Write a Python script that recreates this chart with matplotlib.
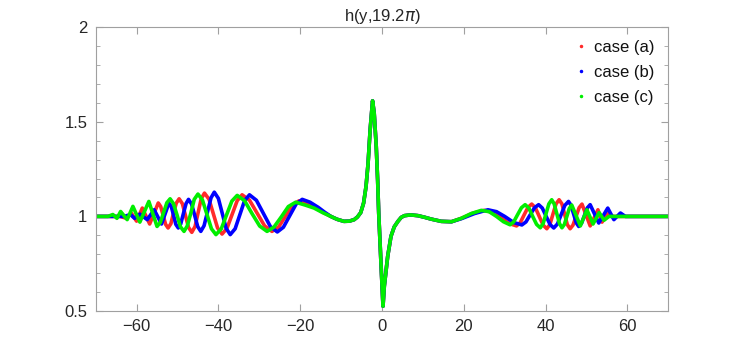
import numpy as np
import matplotlib
matplotlib.use("Agg")
from matplotlib import pyplot as plt
from matplotlib.lines import Line2D
from matplotlib.ticker import MultipleLocator

plt.rcParams['font.family'] = ['Liberation Sans', 'DejaVu Sans']

# shared part around the soliton (all three cases overlap here)
core_x = [-12.5, -11.0, -9.3, -8.0, -6.8, -6.0, -5.2, -4.5, -3.9, -3.4, -2.9, -2.3, -1.9,
          -1.4, -1.06, -0.8, -0.25, 0.25, 0.57, 1.4, 2.2, 3.0, 3.9, 4.7, 5.5, 7.0, 8.8,
          10.5, 12.0, 14.5]
core_y = [1.0, 0.985, 0.974, 0.975, 0.983, 0.997, 1.02, 1.07, 1.158, 1.28, 1.456, 1.61, 1.544,
          1.368, 1.19, 1.018, 0.755, 0.526, 0.632, 0.79, 0.895, 0.945, 0.974, 0.995, 1.004, 1.008, 1.004,
          0.995, 0.986, 0.974]

# case (a)
a_left_x = [-70, -64, -62.5, -61.3, -60.0, -58.6, -56.8, -54.7, -54.1, -53.5, -52.9, -52.3,
            -51.6, -51.0, -50.3, -49.6, -48.8, -48.05, -47.3, -46.5, -45.7, -44.95, -44.2, -43.4,
            -42.3, -41.25, -40.2, -39.1, -37.9, -36.65, -35.4, -34.2, -32.4, -30.55, -28.7, -26.9,
            -25.25, -23.6, -21.95, -20.3, -18.2, -16.2, -14.3]
a_left_y = [1.0, 1.0, 0.99, 1.018, 0.975, 1.044, 0.96, 1.071, 1.052, 1.005, 0.958, 0.939,
            0.962, 1.016, 1.07, 1.093, 1.067, 1.005, 0.942, 0.916, 0.947, 1.02, 1.093, 1.123,
            1.091, 1.015, 0.939, 0.907, 0.937, 1.01, 1.083, 1.114, 1.086, 1.018, 0.95, 0.921,
            0.945, 1.0, 1.058, 1.082, 1.065, 1.045, 1.02]
a_right_x = [17.0, 19.4, 22.2, 25.0, 27.0, 29.0, 31.0, 32.9, 33.8, 34.75, 35.7, 36.6, 37.5,
             38.45, 39.4, 40.3, 41.05, 41.8, 42.55, 43.3, 44.0, 44.65, 45.3, 46.0, 46.7, 47.45,
             48.2, 48.9, 50.9, 52.8, 53.8, 55.3, 56.5, 70]
a_right_y = [0.972, 0.99, 1.017, 1.032, 1.022, 0.995, 0.963, 0.95, 0.967, 1.008, 1.048, 1.065, 1.046,
             1.0, 0.954, 0.935, 0.957, 1.012, 1.066, 1.088, 1.066, 1.012, 0.957, 0.935, 0.954, 1.0,
             1.046, 1.065, 0.95, 1.035, 0.97, 1.015, 1.0, 1.0]

# case (b)
b_left_x = [-70, -63, -61.5, -60.5, -59.2, -57.4, -55.7, -53.9, -52.1, -51.5, -50.95, -50.4,
            -49.8, -49.2, -48.55, -47.9, -47.3, -46.55, -45.8, -45.05, -44.3, -43.5, -42.65, -41.8,
            -41.0, -40.0, -39.05, -38.1, -37.1, -35.9, -34.75, -33.6, -32.4, -30.7, -29.0, -27.3,
            -25.6, -24.1, -22.55, -21.0, -19.5, -17.6, -15.6, -14.0]
b_left_y = [1.0, 1.0, 1.01, 0.99, 1.012, 0.983, 1.035, 0.96, 1.07, 1.051, 1.005, 0.958,
            0.939, 0.961, 1.015, 1.068, 1.09, 1.065, 1.006, 0.946, 0.921, 0.951, 1.025, 1.098,
            1.128, 1.095, 1.016, 0.937, 0.904, 0.935, 1.009, 1.083, 1.114, 1.085, 1.016, 0.947,
            0.918, 0.943, 1.004, 1.065, 1.09, 1.075, 1.048, 1.022]
b_right_x = [17.0, 19.4, 22.6, 25.9, 28.0, 30.0, 32.2, 34.2, 35.2, 36.25, 37.3, 38.3, 39.2,
             40.15, 41.1, 42.0, 42.9, 43.8, 44.7, 45.6, 46.2, 46.85, 47.5, 48.1, 48.8, 49.5,
             50.2, 50.9, 53.0, 55.2, 56.7, 58.3, 59.5, 70]
b_right_y = [0.972, 0.988, 1.015, 1.035, 1.025, 1.0, 0.968, 0.955, 0.971, 1.009, 1.046, 1.062, 1.044,
             1.0, 0.957, 0.939, 0.96, 1.009, 1.058, 1.079, 1.06, 1.013, 0.966, 0.947, 0.964, 1.005,
             1.045, 1.062, 0.965, 1.044, 0.983, 1.018, 1.0, 1.0]

# case (c)
c_left_x = [-70, -67, -65.8, -64.8, -63.9, -62.3, -60.9, -59.2, -57.0, -55.0, -54.2, -53.4,
            -52.6, -51.8, -51.0, -50.1, -49.3, -48.4, -47.6, -46.7, -45.9, -45.0, -43.9, -42.8,
            -41.7, -40.6, -39.3, -38.0, -36.7, -35.4, -33.6, -31.8, -29.9, -28.1, -26.4, -24.6,
            -22.9, -21.1, -18.8, -16.6, -14.5]
c_left_y = [1.0, 1.0, 1.01, 0.99, 1.026, 0.983, 1.053, 0.97, 1.079, 0.947, 0.968, 1.02,
            1.072, 1.093, 1.068, 1.007, 0.946, 0.921, 0.95, 1.02, 1.09, 1.118, 1.087, 1.011,
            0.935, 0.904, 0.934, 1.008, 1.081, 1.111, 1.083, 1.016, 0.949, 0.921, 0.944, 0.998,
            1.052, 1.075, 1.06, 1.044, 1.02]
c_right_x = [17.0, 19.4, 21.8, 24.3, 26.2, 28.0, 29.7, 31.3, 32.2, 33.15, 34.1, 35.0, 35.9,
             36.85, 37.8, 38.7, 39.4, 40.1, 40.8, 41.5, 42.1, 42.75, 43.4, 44.0, 44.6, 45.2,
             45.8, 46.4, 47.45, 48.5, 50.1, 51.6, 53.1, 54.3, 55.5, 70]
c_right_y = [0.972, 0.99, 1.015, 1.032, 1.025, 1.0, 0.972, 0.956, 0.971, 1.009, 1.046, 1.062, 1.044,
             1.0, 0.958, 0.94, 0.962, 1.014, 1.066, 1.088, 1.066, 1.014, 0.962, 0.94, 0.958, 1.0,
             1.042, 1.06, 1.005, 0.95, 1.035, 0.96, 1.02, 0.98, 1.0, 1.0]

labels = ['case (a)', 'case (b)', 'case (c)']
colors = ['#ff2a2a', '#0000ff', '#00ee00']

series = [
    (a_left_x + core_x + a_right_x, a_left_y + core_y + a_right_y),
    (b_left_x + core_x + b_right_x, b_left_y + core_y + b_right_y),
    (c_left_x + core_x + c_right_x, c_left_y + core_y + c_right_y),
]

fig = plt.figure(figsize=(7.36, 3.5), dpi=100)
ax = fig.add_axes([0.130, 0.111, 0.778, 0.812])

for (xs, ys), col in zip(series, colors):
    ax.plot(xs, ys, color=col, lw=2.6, solid_joinstyle='round', solid_capstyle='round')

ax.set_xlim(-70, 70)
ax.set_ylim(0.5, 2)
ax.set_xticks([-60, -40, -20, 0, 20, 40, 60])
ax.set_yticks([0.5, 1, 1.5, 2])
ax.set_yticklabels(['0.5', '1', '1.5', '2'])
ax.yaxis.set_minor_locator(MultipleLocator(0.1))

for sp in ax.spines.values():
    sp.set_color('#a0a0a0')
    sp.set_linewidth(0.8)
ax.tick_params(which='both', direction='in', top=True, right=True, color='#a0a0a0',
               labelsize=12, labelcolor='#262626', pad=6)
ax.tick_params(which='major', length=5)
ax.tick_params(which='minor', length=3)

ax.set_title(r'h(y,19.2$\pi$)', fontsize=12, color='#262626', pad=4)

handles = [Line2D([], [], ls='none', marker='.', markersize=3, color=c) for c in colors]
ax.legend(handles, labels, loc='upper right', frameon=False, fontsize=12,
          handlelength=0.6, handletextpad=0.5, labelspacing=0.6,
          borderaxespad=0.4, labelcolor='#111111')

fig.savefig('out.png', dpi=100)
